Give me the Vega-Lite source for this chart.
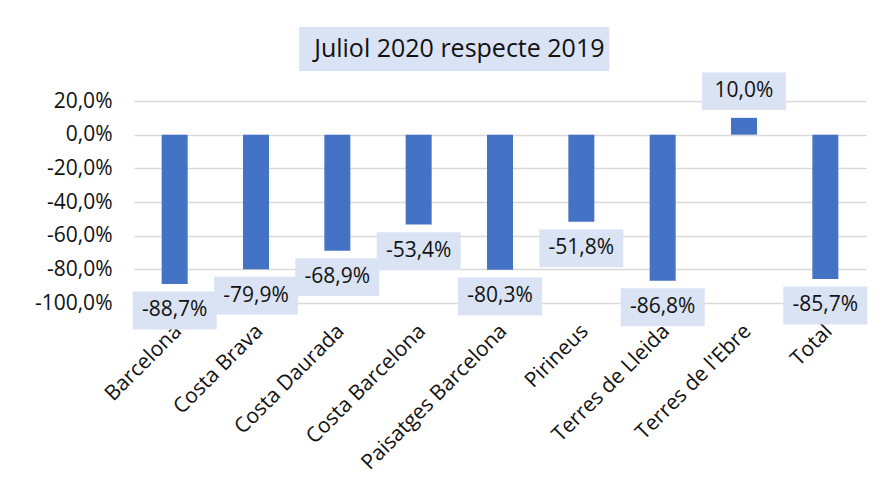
{
  "$schema": "https://vega.github.io/schema/vega-lite/v6.json",
  "width": 732,
  "height": 202,
  "autosize": {"type": "none"},
  "padding": {"left": 134, "top": 101, "right": 21, "bottom": 184},
  "background": "white",
  "config": {
    "view": {"stroke": null},
    "font": "Open Sans",
    "locale": {"number": {"decimal": ",", "thousands": ".", "grouping": [3], "currency": ["", " €"], "minus": "-"}},
    "axisX": {"title": null, "domain": false, "ticks": false, "grid": false, "labelAngle": -45, "labelFontSize": 21, "labelPadding": 17, "labelOffset": -4, "labelLimit": 0, "labelOverlap": false, "labelColor": "#111", "labelFont": "Open Sans", "zindex": 1},
    "axisY": {"title": null, "domain": false, "ticks": false, "grid": true, "gridColor": "#d9d9d9", "gridWidth": 1.5, "labelFontSize": 21, "labelPadding": 22, "labelOverlap": false, "labelColor": "#111", "labelFont": "Open Sans"}
  },
  "datasets": {
    "regions": [
      {"region": "Barcelona", "value": -0.887},
      {"region": "Costa Brava", "value": -0.799},
      {"region": "Costa Daurada", "value": -0.689},
      {"region": "Costa Barcelona", "value": -0.534},
      {"region": "Paisatges Barcelona", "value": -0.803},
      {"region": "Pirineus", "value": -0.518},
      {"region": "Terres de Lleida", "value": -0.868},
      {"region": "Terres de l'Ebre", "value": 0.1},
      {"region": "Total", "value": -0.857}
    ],
    "heading": [{"text": "Juliol 2020 respecte 2019"}]
  },
  "layer": [
    {
      "data": {"name": "regions"},
      "mark": {"type": "bar", "color": "#4472C4", "width": 26},
      "encoding": {
        "x": {"field": "region", "type": "nominal", "sort": null, "title": null, "scale": {"paddingInner": 0, "paddingOuter": 0}},
        "y": {"field": "value", "type": "quantitative", "title": null, "scale": {"domain": [-1, 0.2], "nice": false, "zero": false}, "axis": {"values": [-1, -0.8, -0.6, -0.4, -0.2, 0, 0.2], "tickCount": 10, "format": ".1%", "labelOverlap": false}}
      }
    },
    {
      "data": {"name": "regions"},
      "transform": [
        {"calculate": "datum.value < 0 ? datum.value - 0.045 : datum.value + 0.047", "as": "lo"},
        {"calculate": "datum.value < 0 ? datum.value - 0.27 : datum.value + 0.27", "as": "hi"}
      ],
      "mark": {"type": "bar", "color": "#DAE3F3", "width": 84},
      "encoding": {
        "x": {"field": "region", "type": "nominal", "sort": null, "title": null},
        "y": {"field": "lo", "type": "quantitative", "title": null},
        "y2": {"field": "hi"}
      }
    },
    {
      "data": {"name": "regions"},
      "transform": [
        {"calculate": "datum.value < 0 ? datum.value - 0.157 : datum.value + 0.157", "as": "mid"}
      ],
      "mark": {"type": "text", "fontSize": 21, "color": "#111", "font": "Open Sans"},
      "encoding": {
        "x": {"field": "region", "type": "nominal", "sort": null, "title": null},
        "y": {"field": "mid", "type": "quantitative", "title": null},
        "text": {"field": "value", "type": "quantitative", "format": ".1%"}
      }
    },
    {
      "data": {"name": "heading"},
      "mark": {"type": "rect", "color": "#DAE3F3"},
      "encoding": {
        "x": {"datum": "Costa Daurada", "type": "nominal", "bandPosition": 0.03, "title": null},
        "x2": {"datum": "Pirineus", "bandPosition": 0.845},
        "y": {"datum": 0.64, "type": "quantitative", "title": null},
        "y2": {"datum": 0.378}
      }
    },
    {
      "data": {"name": "heading"},
      "mark": {"type": "text", "fontSize": 25, "color": "#111", "font": "Open Sans"},
      "encoding": {
        "x": {"datum": "Paisatges Barcelona", "type": "nominal", "bandPosition": 0, "title": null},
        "y": {"datum": 0.51, "type": "quantitative", "title": null},
        "text": {"field": "text", "type": "nominal"}
      }
    }
  ]
}
